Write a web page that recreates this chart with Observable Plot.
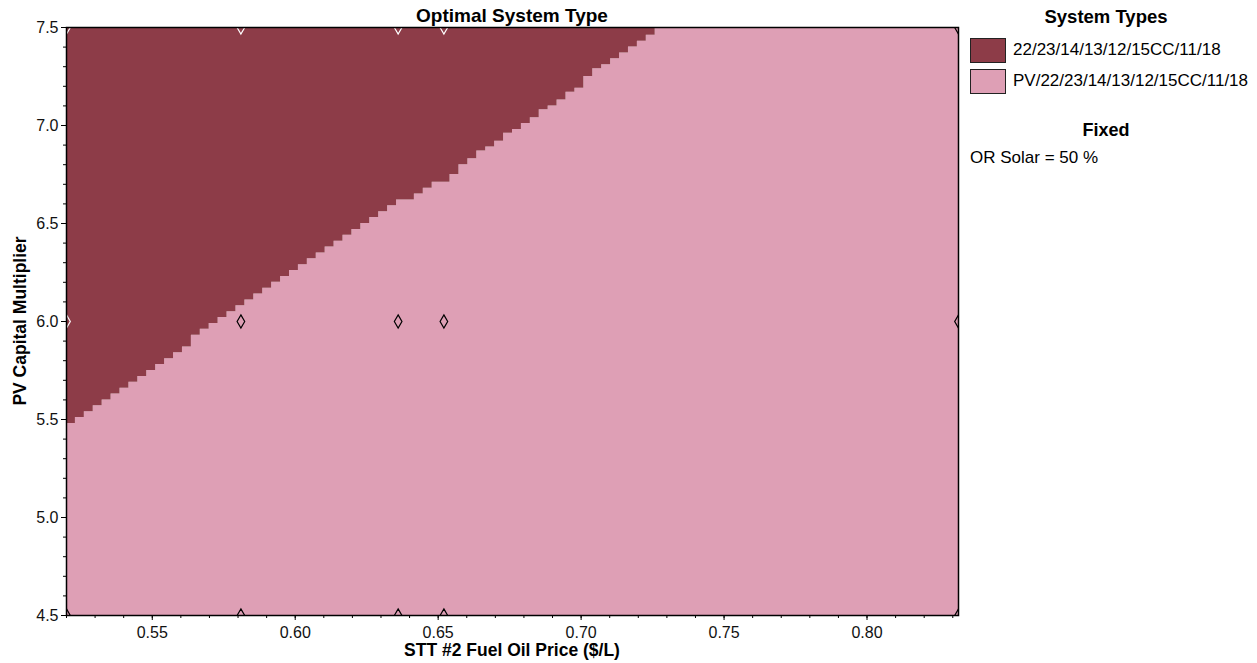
<!DOCTYPE html>
<html>
<head>
<meta charset="utf-8">
<script src="https://cdn.jsdelivr.net/npm/d3@7"></script>
<script src="https://cdn.jsdelivr.net/npm/@observablehq/plot@0.6"></script>
<style>
  body { margin: 0; background: #fff; font-family: "Liberation Sans", Arial, sans-serif; }
  #wrap { position: relative; width: 1257px; height: 663px; overflow: hidden; }
  #chart { position: absolute; left: 0; top: 0; }
  .lbl { position: absolute; white-space: nowrap; color: #000; font-size: 17px; line-height: 20px; }
  .b { font-weight: bold; }
  .sw { position: absolute; width: 34px; height: 23px; border: 1px solid #222; }
</style>
</head>
<body>
<div id="wrap"><div id="chart"></div></div>
<script>
// ---- data ----
const systemTypes = ["22/23/14/13/12/15CC/11/18", "PV/22/23/14/13/12/15CC/11/18"];
const typeColors = ["#8d3c48", "#de9fb5"];
const fuelPriceRange = [0.52, 0.832];     // sensitivity range, $/L
const pvMultRange = [4.5, 7.5];
// boundary (PV capital multiplier) per fuel-price grid column: above -> no PV, below -> PV
const boundary = [
  5.48, 5.51, 5.54, 5.57, 5.60, 5.63, 5.66, 5.69, 5.72, 5.75,
  5.78, 5.81, 5.84, 5.87, 5.93, 5.96, 5.99, 6.02, 6.05, 6.08,
  6.11, 6.14, 6.17, 6.20, 6.23, 6.26, 6.29, 6.32, 6.35, 6.38,
  6.41, 6.44, 6.47, 6.50, 6.53, 6.56, 6.59, 6.62, 6.62, 6.65,
  6.68, 6.71, 6.71, 6.75, 6.80, 6.83, 6.87, 6.89, 6.92, 6.96,
  6.98, 7.01, 7.04, 7.08, 7.10, 7.13, 7.17, 7.19, 7.25, 7.29,
  7.31, 7.34, 7.37, 7.40, 7.43, 7.46, 7.50, 7.50, 7.50, 7.50,
  7.50, 7.50, 7.50, 7.50, 7.50, 7.50, 7.50, 7.50, 7.50, 7.50,
  7.50, 7.50, 7.50, 7.50, 7.50, 7.50, 7.50, 7.50, 7.50, 7.50,
  7.50, 7.50, 7.50, 7.50, 7.50, 7.50, 7.50, 7.50, 7.50, 7.50
];
// sensitivity cases (diamonds)
const fuelPrices = [0.52, 0.581, 0.636, 0.652, 0.832];
const pvMultipliers = [4.5, 6.0, 7.5];
const xTicks = [0.55, 0.60, 0.65, 0.70, 0.75, 0.80];
const yTicks = [4.5, 5.0, 5.5, 6.0, 6.5, 7.0, 7.5];
const title = "Optimal System Type";
const xLabel = "STT #2 Fuel Oil Price ($/L)";
const yLabel = "PV Capital Multiplier";
const fixedNote = "OR Solar = 50 %";

// ---- build tables ----
const step = (fuelPriceRange[1] - fuelPriceRange[0]) / boundary.length;
const cols = boundary.map((t, k) => ({x: fuelPriceRange[0] + k * step, t}));
cols.push({x: fuelPriceRange[1], t: boundary[boundary.length - 1]});

const cases = [];
for (const y of pvMultipliers) for (const x of fuelPrices) {
  const k = Math.floor((x - fuelPriceRange[0]) / step + 1e-9);
  const dark = k < boundary.length && y > boundary[k];
  cases.push({x, y, dark});
}

const xMinor = d3.range(52, 84).map(v => v / 100);
const yMinor = d3.range(45, 76).map(v => v / 10);

const chart = Plot.plot({
  width: 960,
  height: 663,
  marginLeft: 66,
  marginRight: 2,
  marginTop: 27,
  marginBottom: 48,
  style: {fontFamily: "Liberation Sans, Arial, sans-serif", fontSize: "16px", color: "#111", background: "#fff"},
  x: {domain: fuelPriceRange},
  y: {domain: pvMultRange},
  color: {domain: systemTypes, range: typeColors},
  marks: [
    Plot.areaY(cols, {x: "x", y1: pvMultRange[0], y2: "t", fill: () => systemTypes[1], curve: "step-after"}),
    Plot.areaY(cols, {x: "x", y1: "t", y2: pvMultRange[1], fill: () => systemTypes[0], curve: "step-after"}),
    Plot.dot(cases, {x: "x", y: "y", symbol: "diamond", r: 4, fill: "none",
      stroke: d => d.dark ? "#fff" : "#000", strokeWidth: 1.2, clip: true}),
    Plot.axisX({ticks: xMinor, tickSize: 3, text: null, label: null, stroke: "#000"}),
    Plot.axisY({ticks: yMinor, tickSize: 3, text: null, label: null, stroke: "#000"}),
    Plot.axisX({ticks: xTicks, tickSize: 5, tickPadding: 6, tickFormat: ".2f", label: null, stroke: "#000"}),
    Plot.axisY({ticks: yTicks, tickSize: 5, tickPadding: 3, tickFormat: ".1f", label: null, stroke: "#000"}),
    Plot.frame({stroke: "#000", strokeWidth: 1.5})
  ]
});
const wrap = document.getElementById("wrap");
document.getElementById("chart").append(chart);

function add(text, style, cls) {
  const d = document.createElement("div");
  d.className = "lbl " + (cls || "");
  d.textContent = text;
  Object.assign(d.style, style);
  wrap.append(d);
  return d;
}
add(title, {left: "512px", top: "5px", fontSize: "19px", lineHeight: "22px", transform: "translateX(-50%)"}, "b");
add(xLabel, {left: "512px", top: "640px", fontSize: "17.5px", transform: "translateX(-50%)"}, "b");
add(yLabel, {left: "20px", top: "321px", fontSize: "17.5px", transform: "translate(-50%,-50%) rotate(-90deg)"}, "b");
add("System Types", {left: "1106px", top: "6px", fontSize: "18.5px", lineHeight: "22px", transform: "translateX(-50%)"}, "b");
systemTypes.forEach((s, i) => {
  const sw = document.createElement("div");
  sw.className = "sw";
  sw.style.left = "970px";
  sw.style.top = (38 + i * 31) + "px";
  sw.style.background = typeColors[i];
  wrap.append(sw);
  add(s, {left: "1013px", top: (40 + i * 31) + "px"});
});
add("Fixed", {left: "1106px", top: "119px", fontSize: "18px", lineHeight: "22px", transform: "translateX(-50%)"}, "b");
add(fixedNote, {left: "970px", top: "148px"});
</script>
</body>
</html>
